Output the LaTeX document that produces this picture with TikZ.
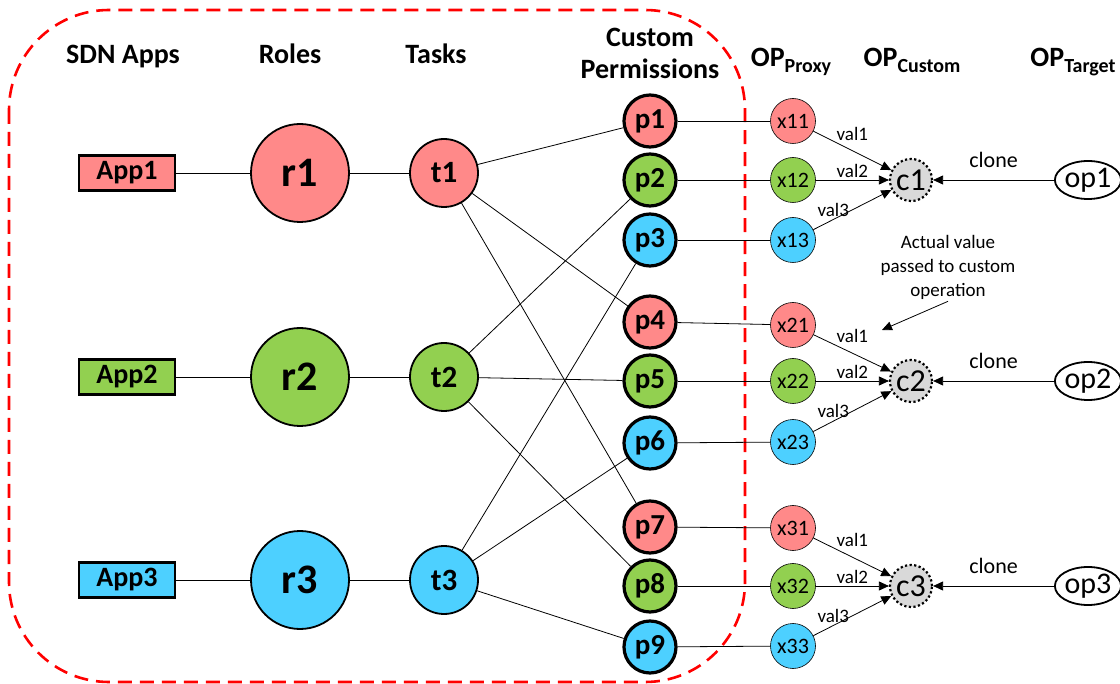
\documentclass[tikz,border=0pt]{standalone}
\usepackage{fontspec}
\setmainfont{Carlito}
\usetikzlibrary{arrows.meta,shapes.geometric}

\definecolor{cred}{RGB}{255,137,137}
\definecolor{cgreen}{RGB}{146,208,80}
\definecolor{cblue}{RGB}{77,208,255}
\definecolor{cgray}{RGB}{217,217,217}

\newcommand{\fsz}[1]{\fontsize{#1}{#1}\selectfont}

\tikzset{
  hdr/.style={font=\fsz{28}\bfseries, inner sep=0pt},
  app/.style={draw, line width=2.2pt, minimum width=96pt, minimum height=35pt, inner sep=0pt, font=\fsz{28}\bfseries},
  role/.style={circle, draw, line width=1.8pt, minimum size=98pt, inner sep=0pt, font=\fsz{42}\bfseries},
  task/.style={circle, draw, line width=1.8pt, minimum size=68pt, inner sep=0pt, font=\fsz{31}\bfseries},
  perm/.style={circle, draw, line width=3.2pt, minimum size=52pt, inner sep=0pt, font=\fsz{29}\bfseries},
  proxy/.style={circle, draw, line width=0.6pt, minimum size=45pt, inner sep=0pt, font=\fsz{22}},
  cust/.style={circle, draw, fill=cgray, line width=2.2pt, dash pattern=on 2.2pt off 2.4pt, minimum size=42pt, inner sep=0pt, font=\fsz{32}},
  target/.style={ellipse, draw, line width=1.8pt, minimum width=58pt, minimum height=38pt, inner sep=0pt, font=\fsz{30}},
  lbl/.style={font=\fsz{19}, inner sep=1pt},
  lblbig/.style={font=\fsz{22}, inner sep=1pt},
  link/.style={line width=0.8pt},
  arr/.style={line width=0.8pt, -{Triangle[length=10pt,width=9pt]}}
}

\begin{document}
\begin{tikzpicture}[x=1pt,y=-1pt]
\useasboundingbox (0,0) rectangle (1120,684);

% controller side
\draw[red, line width=2.6pt, dash pattern=on 14pt off 8pt, rounded corners=100pt] (9,10) rectangle (745,682);

% column titles
\node[hdr, anchor=base] (happs) at (123,64) {SDN Apps};
\node[hdr, anchor=base] (hroles) at (290,64) {Roles};
\node[hdr, anchor=base] (htasks) at (436,64) {Tasks};
\node[hdr, align=center, font=\fontsize{28}{32}\selectfont\bfseries] (hperm) at (650,53) {Custom\\Permissions};
\node[hdr, anchor=base] (hproxy) at (791,67) {OP\raisebox{-6pt}{\fsz{20}Proxy}};
\node[hdr, anchor=base] (hcustom) at (912,67) {OP\raisebox{-6pt}{\fsz{20}Custom}};
\node[hdr, anchor=base] (htarget) at (1073,67) {OP\raisebox{-6pt}{\fsz{20}Target}};

% apps, roles and tasks
\foreach \i/\y/\c in {1/173/cred, 2/377/cgreen, 3/580/cblue}{
  \node[app, fill=\c] (app\i) at (127,\y) {App\i};
  \node[role, fill=\c] (r\i) at (300,\y) {r\i};
  \node[task, fill=\c] (t\i) at (444,\y) {t\i};
  \draw[link] (app\i) -- (r\i) -- (t\i);
}

% custom permissions
\foreach \n/\y/\c in {1/121/cred, 2/180/cgreen, 3/240/cblue, 4/322/cred, 5/381/cgreen,
                      6/443/cblue, 7/527/cred, 8/586/cgreen, 9/647/cblue}
  \node[perm, fill=\c] (p\n) at (650,\y) {p\n};

% proxies
\foreach \n/\y/\c in {11/121/cred, 12/180/cgreen, 13/240/cblue, 21/325/cred, 22/381/cgreen,
                      23/442/cblue, 31/528/cred, 32/586/cgreen, 33/646/cblue}
  \node[proxy, fill=\c] (x\n) at (793,\y) {x\n};

% tasks to permissions
\foreach \i/\a/\b/\c in {1/1/4/7, 2/2/5/8, 3/3/6/9}{
  \draw[link] (t\i) -- (p\a);
  \draw[link] (t\i) -- (p\b);
  \draw[link] (t\i) -- (p\c);
}

% permissions to proxies
\foreach \p/\n in {1/11, 2/12, 3/13, 4/21, 5/22, 6/23, 7/31, 8/32, 9/33}
  \draw[link] (p\p) -- (x\n);

% custom and target operations
\foreach \i/\y in {1/180, 2/381, 3/586}{
  \node[cust] (c\i) at (911,\y) {c\i};
  \node[target] (op\i) at (1088,\y) {op\i};
  \draw[arr] (op\i) -- node[lblbig, above=11pt] {clone} (c\i);
  \draw[arr] (x\i1) -- node[lbl, above=9pt] {val1} (c\i);
  \draw[arr] (x\i2) -- node[lbl, above=1pt] {val2} (c\i);
  \draw[arr] (x\i3) -- node[lbl, left=2pt] {val3} (c\i);
}

% note
\node[align=center, font=\fontsize{19}{24}\selectfont, inner sep=2pt] (note) at (948,267) {Actual value\\passed to custom\\operation};
\coordinate (notetip) at (882,330);
\draw[arr] (note.south) -- (notetip);
\end{tikzpicture}
\end{document}
